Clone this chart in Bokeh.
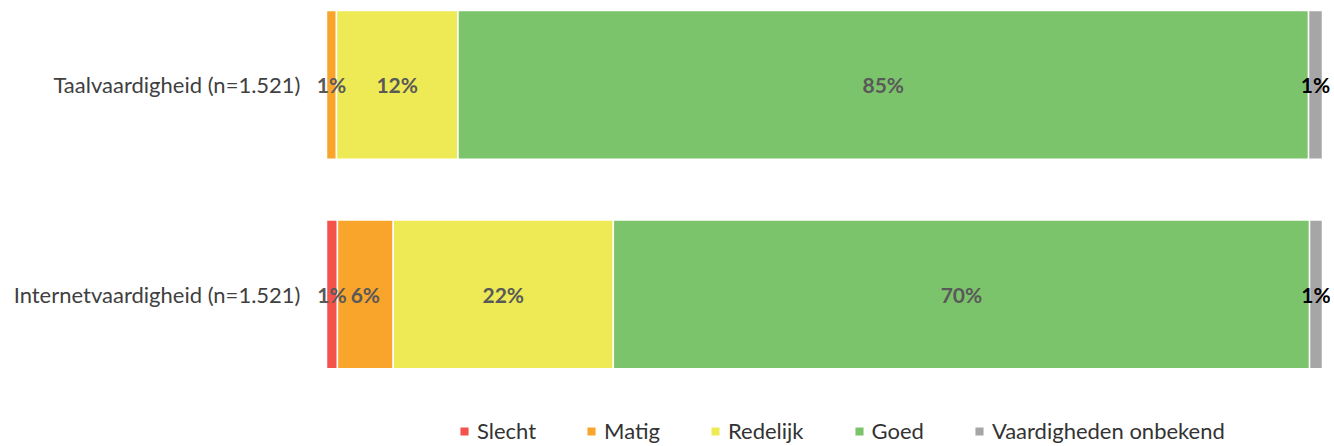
from bokeh.plotting import figure
from bokeh.models import ColumnDataSource, Range1d, FixedTicker
from bokeh.embed import file_html
from bokeh.resources import INLINE
from bokeh.core.properties import value

categories = ["Internetvaardigheid (n=1.521)", "Taalvaardigheid (n=1.521)"]
levels = ["Slecht", "Matig", "Redelijk", "Goed", "Vaardigheden onbekend"]
keys = ["slecht", "matig", "redelijk", "goed", "onbekend"]
colors = ["#F4524B", "#F9A42A", "#EEEA55", "#7CC46B", "#A6A6A6"]

slecht = [1.1, 0.0]
matig = [5.6, 1.0]
redelijk = [22.1, 12.2]
goed = [69.9, 85.4]
onbekend = [1.3, 1.4]

FONT = "Lato"
ypos = list(range(len(categories)))
data = dict(y=ypos, slecht=slecht, matig=matig, redelijk=redelijk, goed=goed, onbekend=onbekend)
source = ColumnDataSource(data)

# frame: left at 305px, value 0 at 326px, value 100 at 1322px
PX = 9.96
p = figure(width=1330, height=444, output_backend="svg", toolbar_location=None,
           x_range=Range1d(-21 / PX, 100 + 8 / PX), y_range=Range1d(-0.716, 1.4033),
           min_border_left=305, min_border_right=0, min_border_top=0, min_border_bottom=0)

p.hbar_stack(keys, y="y", height=0.71, color=colors, source=source,
             line_color="white", line_width=1.5, legend_label=levels)

# value labels
lx, ly, lt, lc = [], [], [], []
series = [slecht, matig, redelijk, goed, onbekend]
for i in range(len(categories)):
    cum = 0.0
    for j, s in enumerate(series):
        v = s[i]
        if v > 0:
            lx.append(cum + v / 2)
            ly.append(ypos[i])
            lt.append(f"{round(v)}%")
            lc.append("#000000" if j == 4 else "#595959")
        cum += v
lsrc = ColumnDataSource(dict(x=lx, y=ly, t=lt, c=lc))
p.text(x="x", y="y", text="t", source=lsrc, text_color="c", text_align="center",
       text_baseline="middle", text_font=value(FONT), text_font_size="21px",
       text_font_style="bold")

p.xaxis.visible = False
p.xgrid.visible = False
p.ygrid.visible = False
p.outline_line_color = None

ya = p.yaxis[0]
ya.ticker = FixedTicker(ticks=ypos)
ya.major_label_overrides = {i: c for i, c in zip(ypos, categories)}
ya.axis_line_color = None
ya.major_tick_line_color = None
ya.minor_tick_line_color = None
ya.major_tick_out = 0
ya.major_tick_in = 0
ya.major_label_standoff = 5
ya.major_label_text_font = FONT
ya.major_label_text_font_size = "22px"
ya.major_label_text_color = "#404040"

lg = p.legend[0]
lg.orientation = "horizontal"
lg.location = (153, 0)
lg.margin = 0
lg.padding = 0
lg.spacing = 49
lg.glyph_width = 12
lg.glyph_height = 12
lg.label_standoff = 7
lg.label_text_font = FONT
lg.label_text_font_size = "22px"
lg.label_text_color = "#333333"
lg.border_line_color = None
lg.background_fill_alpha = 0

open("out.html", "w").write(file_html(p, INLINE))
